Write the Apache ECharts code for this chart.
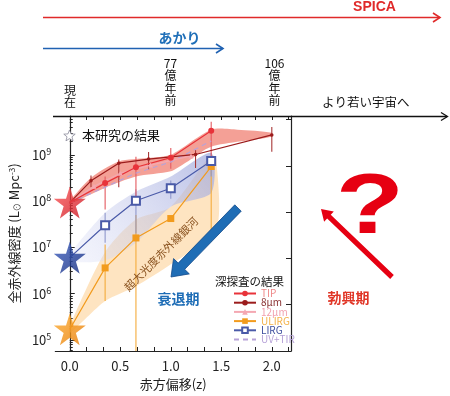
<!DOCTYPE html>
<html><head><meta charset="utf-8">
<script src="https://cdn.jsdelivr.net/npm/echarts@6/dist/echarts.min.js"></script>
<style>html,body{margin:0;padding:0;background:#fff}#c{width:450px;height:396px}</style>
</head><body><div id="c"></div>
<script>
// ---------- data (z, luminosity density in L_sun Mpc^-3) ----------
const xLabelValues = [0, 0.5, 1.0, 1.5, 2.0];
const yLabelExps = [5, 6, 7, 8, 9];
const tipData   = [[0,9.3e7],[0.35,2.45e8],[0.655,5.4e8],[1.0,8.7e8],[1.40,3.3e9]];
const tipErr    = [[0.35,6.6e7,3.4e8],[0.655,1.07e8,9.1e8],[1.0,5.0e8,1.4e9],[1.40,8.7e8,5.2e9]];
const mu8Data   = [[0,9.3e7],[0.21,2.75e8],[0.485,6.6e8],[0.78,8.1e8],[1.245,1.02e9],[2.0,2.7e9]];
const mu8Err    = [[0.21,2.0e8,3.6e8],[0.485,2.0e8,7.9e8],[0.78,4.8e8,1.15e9],[1.245,5.2e8,1.26e9],[2.0,1.17e9,4.0e9]];
const mu12Data  = [[0,9.3e7],[0.24,2.1e8],[0.5,4.0e8],[0.8,6.0e8],[1.2,9.5e8]];
const uvtirData = [[0,9.3e7],[0.35,2.0e8],[0.65,4.0e8],[1.0,7.0e8],[1.4,2.0e9]];
const lirgData  = [[0,6.0e6],[0.35,3.0e7],[0.655,1.02e8],[1.0,1.9e8],[1.40,7.4e8]];
const lirgErr   = [[0.35,1.26e7,5.6e7],[0.655,2.0e7,1.8e8],[1.0,1.12e8,2.8e8],[1.40,3.4e8,1.1e9]];
const ulirgData = [[0,1.7e5],[0.35,3.6e6],[0.655,1.6e7],[1.0,4.2e7],[1.40,5.6e8]];
const ulirgErr  = [[0.35,6.9e5,1.15e7],[0.655,5.0e4,5.0e7],[1.40,1.3e7,7.9e8]];
const thisWork  = [[0,9.3e7],[0,6.0e6],[0,1.7e5]];
const redBandUp  = [[0,1.0e8],[0.21,3.2e8],[0.485,7.2e8],[0.78,8.5e8],[1.0,1.0e9],[1.4,3.5e9],[1.66,3.5e9],[2.0,3.0e9]];
const redBandLo  = [[0,8.7e7],[0.35,1.95e8],[0.655,3.4e8],[1.0,4.4e8],[1.15,6.8e8],[1.4,1.5e9],[2.0,2.45e9]];
const blueBandUp = [[0,7.1e6],[0.35,5.6e7],[0.655,1.6e8],[1.0,3.4e8],[1.4,1.1e9]];
const blueBandLo = [[0,5.0e6],[0.35,5.2e6],[0.655,1.26e7],[1.0,7.6e7],[1.4,1.5e8]];
const orBandUp   = [[0,2.0e5],[0.35,7.9e6],[0.655,4.0e7],[1.0,7.6e7],[1.4,1.0e9],[1.45,8.0e8]];
const orBandLo   = [[0,1.4e5],[0.35,6.9e5],[0.655,1.45e6],[1.0,4.3e6],[1.45,2.45e7]];

const L = v => Math.log10(v);
const pts = arr => arr.map(p => [p[0], L(p[1])]);
const YMIN = 4.76, YMAX = 9.84, XMIN = -0.143, XMAX = 2.19;
const FONT = '"Noto Sans CJK JP", "Noto Sans", sans-serif';

const sixth = []; for (let i = 0; i <= 13; i++) sixth.push(i / 6);
const yMinor = []; for (let e = 4; e <= 9; e++) for (let k = 2; k <= 9; k++) { const v = e + Math.log10(k); if (v > YMIN && v < YMAX) yMinor.push(v); }
const yRight = [5.76, 6.76, 7.76, 8.76, 9.76];

const chart = echarts.init(document.getElementById('c'));

function lineSeries(name, data, color, symbol, size, extra) {
  return Object.assign({
    name, type: 'line', xAxisIndex: 0, yAxisIndex: 0, z: 4,
    data: pts(data).map((p, i) => i === 0 && data[i][0] === 0 ? { value: p, symbol: 'none' } : p),
    symbol, symbolSize: size, showSymbol: true,
    lineStyle: { color, width: 1.2 }, itemStyle: { color },
    emphasis: { disabled: true }, animation: false
  }, extra || {});
}
function errSeries(data, color) {
  return {
    type: 'custom', xAxisIndex: 0, yAxisIndex: 0, z: 3, silent: true, animation: false,
    data: data.map(d => [d[0], L(d[1]), L(d[2])]),
    renderItem: (params, api) => {
      const a = api.coord([api.value(0), api.value(1)]);
      const b = api.coord([api.value(0), api.value(2)]);
      const cs = params.coordSys;
      const yb = Math.min(a[1], cs.y + cs.height), yt = Math.max(b[1], cs.y);
      return { type: 'line', shape: { x1: a[0], y1: yb, x2: b[0], y2: yt }, style: { stroke: color, lineWidth: 1.1 } };
    }
  };
}
function bandSeries(up, lo, fill) {
  return {
    type: 'custom', xAxisIndex: 0, yAxisIndex: 0, z: 1, silent: true, animation: false,
    data: [0],
    renderItem: (params, api) => {
      const P = pts(up).map(p => api.coord(p)).concat(pts(lo).reverse().map(p => api.coord(p)));
      return { type: 'polygon', shape: { points: P, smooth: 0.25 }, style: { fill } };
    }
  };
}
function arrowPts(x1, y1, x2, y2, hw, headW, headL) {
  const dx = x2 - x1, dy = y2 - y1, len = Math.hypot(dx, dy);
  const ux = dx / len, uy = dy / len, nx = -uy, ny = ux;
  const bx = x2 - ux * headL, by = y2 - uy * headL;
  return [[x1 + nx * hw, y1 + ny * hw], [bx + nx * hw, by + ny * hw], [bx + nx * headW, by + ny * headW], [x2, y2],
          [bx - nx * headW, by - ny * headW], [bx - nx * hw, by - ny * hw], [x1 - nx * hw, y1 - ny * hw]];
}
function starPts(cx, cy, R, r) {
  const out = [];
  for (let i = 0; i < 10; i++) {
    const a = -Math.PI / 2 + i * Math.PI / 5, rr = i % 2 ? r : R;
    out.push([cx + rr * Math.cos(a), cy + rr * Math.sin(a)]);
  }
  return out;
}
const starPath = 'path://M50,0 L61.2,34.5 L97.6,34.5 L68.2,55.9 L79.4,90.5 L50,69.1 L20.6,90.5 L31.8,55.9 L2.4,34.5 L38.8,34.5 Z';
const starColors = [
  { type: 'linear', x: 0, y: 0, x2: 1, y2: 1, colorStops: [{ offset: 0, color: '#ff5a5a' }, { offset: 1, color: '#c8101c' }] },
  { type: 'linear', x: 0, y: 0, x2: 1, y2: 1, colorStops: [{ offset: 0, color: '#3a5cc0' }, { offset: 1, color: '#10287a' }] },
  { type: 'linear', x: 0, y: 0, x2: 1, y2: 1, colorStops: [{ offset: 0, color: '#ffae30' }, { offset: 1, color: '#e67800' }] }
];

const legendColors = { 'TIP': '#ef8a8a', '8μm': '#8a3232', '12μm': '#f2a2b0', 'ULIRG': '#f4b24a', 'LIRG': '#3f4f9e', 'UV+TIR': '#b7a2d8' };

const option = {
  animation: false,
  textStyle: { fontFamily: FONT },
  grid: { left: 54, right: 159, top: 116, bottom: 44 },
  legend: {
    orient: 'vertical', left: 228, top: 283.5, itemWidth: 22, itemHeight: 7, itemGap: -0.8,
    selectedMode: false,
    textStyle: { fontSize: 10, fontFamily: FONT },
    data: Object.keys(legendColors).map(n => ({ name: n, textStyle: { color: legendColors[n] } }))
  },
  xAxis: [
    { type: 'value', min: XMIN, max: XMAX, position: 'bottom',
      axisLine: { show: true, lineStyle: { color: '#222', width: 1.2 } },
      axisTick: { inside: true, length: 4, customValues: sixth, lineStyle: { color: '#222' } },
      axisLabel: { customValues: xLabelValues, formatter: v => v.toFixed(1), fontSize: 13, color: '#222', margin: 9, fontFamily: FONT },
      splitLine: { show: false },
      name: '赤方偏移(z)', nameLocation: 'middle', nameGap: 27,
      nameTextStyle: { fontSize: 13, color: '#222', fontFamily: FONT } },
    { type: 'value', min: XMIN, max: XMAX, position: 'top',
      axisLine: { show: false },
      axisTick: { inside: true, length: 4, customValues: sixth, lineStyle: { color: '#222' } },
      axisLabel: { show: false }, splitLine: { show: false } }
  ],
  yAxis: [
    { type: 'value', min: YMIN, max: YMAX, position: 'left',
      axisLine: { show: true, lineStyle: { color: '#222', width: 1.2 } },
      axisTick: { inside: true, length: 5, customValues: yLabelExps, lineStyle: { color: '#222' } },
      axisLabel: { customValues: yLabelExps, margin: 4, formatter: v => '{b|10}{s|' + v + '}',
        rich: { b: { fontSize: 13, color: '#222', lineHeight: 16, fontFamily: FONT },
                s: { fontSize: 9, color: '#222', verticalAlign: 'top', lineHeight: 10, fontFamily: FONT } } },
      splitLine: { show: false },
      name: '全赤外線密度 (L{o|⊙} Mpc{p|-3})', nameLocation: 'middle', nameGap: 30, nameRotate: 90,
      nameTextStyle: { fontSize: 13, color: '#222', fontFamily: FONT,
        rich: { o: { fontSize: 8, color: '#222', verticalAlign: 'bottom', fontFamily: FONT },
                p: { fontSize: 8, color: '#222', verticalAlign: 'top', fontFamily: FONT } } } },
    { type: 'value', min: YMIN, max: YMAX, position: 'left',
      axisLine: { show: false },
      axisTick: { inside: true, length: 3, customValues: yMinor, lineStyle: { color: '#222' } },
      axisLabel: { show: false }, splitLine: { show: false } },
    { type: 'value', min: YMIN, max: YMAX, position: 'right',
      axisLine: { show: true, lineStyle: { color: '#222', width: 1.2 } },
      axisTick: { inside: true, length: 5, customValues: yRight, lineStyle: { color: '#222' } },
      axisLabel: { show: false }, splitLine: { show: false } }
  ],
  series: [
    bandSeries(orBandUp, orBandLo, 'rgba(253,214,160,0.65)'),
    bandSeries(blueBandUp, blueBandLo, { type: 'linear', x: 1, y: 0, x2: 0, y2: 1,
      colorStops: [{ offset: 0, color: 'rgba(160,168,220,0.75)' }, { offset: 1, color: 'rgba(225,228,248,0.35)' }] }),
    bandSeries(redBandUp, redBandLo, 'rgba(240,120,105,0.7)'),
    errSeries(ulirgErr, '#f4ac3c'),
    errSeries(lirgErr, '#9098cc'),
    errSeries(tipErr, '#e45a60'),
    errSeries(mu8Err, '#a83838'),
    lineSeries('UV+TIR', uvtirData, '#b7a2d8', 'circle', 0, {
      showSymbol: false,
      lineStyle: { color: '#b7a2d8', width: 1.2, type: [5, 4] },
      itemStyle: { color: '#b7a2d8', opacity: 0 } }),
    lineSeries('12μm', mu12Data, '#f4a8b2', 'triangle', 5),
    lineSeries('ULIRG', ulirgData, '#f29b1d', 'rect', 7),
    lineSeries('LIRG', lirgData, '#4a5aa8', 'emptyRect', 8, { itemStyle: { color: '#4a5aa8', borderWidth: 1.2 } }),
    lineSeries('8μm', mu8Data, '#9b1c1c', 'circle', 3.5),
    lineSeries('TIP', tipData, '#e8333a', 'circle', 6),
    { type: 'scatter', xAxisIndex: 0, yAxisIndex: 0, z: 6, silent: true, animation: false,
      symbol: starPath, symbolSize: 32,
      data: pts(thisWork).map((p, i) => ({ value: p, itemStyle: { color: starColors[i] } })) }
  ],
  graphic: [
    { type: 'line', shape: { x1: 43, y1: 17.5, x2: 440, y2: 17.5 }, style: { stroke: '#e02a2a', lineWidth: 1.6 }, z: 10 },
    { type: 'polyline', shape: { points: [[433, 13], [440, 17.5], [433, 22]] }, style: { stroke: '#e02a2a', lineWidth: 1.6, fill: null }, z: 10 },
    { type: 'line', shape: { x1: 43, y1: 48.5, x2: 223, y2: 48.5 }, style: { stroke: '#2062b2', lineWidth: 1.6 }, z: 10 },
    { type: 'polyline', shape: { points: [[216, 44], [223, 48.5], [216, 53]] }, style: { stroke: '#2062b2', lineWidth: 1.6, fill: null }, z: 10 },
    { type: 'line', shape: { x1: 53, y1: 116.5, x2: 447, y2: 116.5 }, style: { stroke: '#111', lineWidth: 1.3 }, z: 10 },
    { type: 'polyline', shape: { points: [[441, 112.5], [447.5, 116.5], [441, 120.5]] }, style: { stroke: '#111', lineWidth: 1.3, fill: null }, z: 10 },
    { type: 'text', x: 374.5, y: 7.5, style: { text: 'SPICA', fill: '#e02a2a', font: 'bold 14px "Liberation Sans", Arial, sans-serif', textAlign: 'center', textVerticalAlign: 'middle' }, z: 10 },
    { type: 'text', x: 179.5, y: 38, style: { text: 'あかり', fill: '#1f6fb8', font: 'bold 14px ' + FONT, textAlign: 'center', textVerticalAlign: 'middle' }, z: 10 },
    { type: 'text', x: 170.5, y: 57, style: { text: '77\n億\n年\n前', fill: '#111', font: '12px ' + FONT, lineHeight: 12.4, textAlign: 'center', textVerticalAlign: 'top' }, z: 10 },
    { type: 'text', x: 274.5, y: 57, style: { text: '106\n億\n年\n前', fill: '#111', font: '12px ' + FONT, lineHeight: 12.4, textAlign: 'center', textVerticalAlign: 'top' }, z: 10 },
    { type: 'text', x: 70, y: 84, style: { text: '現\n在', fill: '#111', font: '12px ' + FONT, lineHeight: 12.4, textAlign: 'center', textVerticalAlign: 'top' }, z: 10 },
    { type: 'text', x: 322, y: 102, style: { text: 'より若い宇宙へ', fill: '#111', font: '12.5px ' + FONT, textAlign: 'left', textVerticalAlign: 'middle' }, z: 10 },
    { type: 'polygon', shape: { points: starPts(69.5, 136, 6, 2.6) }, style: { fill: '#fff', stroke: '#8a8a9a', lineWidth: 0.8 }, z: 10 },
    { type: 'text', x: 82, y: 135, style: { text: '本研究の結果', fill: '#111', font: '13px ' + FONT, textAlign: 'left', textVerticalAlign: 'middle' }, z: 10 },
    { type: 'text', x: 161, y: 254, rotation: Math.PI / 4, style: { text: '超大光度赤外線銀河', fill: '#8a5320', font: '11px ' + FONT, textAlign: 'center', textVerticalAlign: 'middle' }, z: 10 },
    { type: 'polygon', shape: { points: arrowPts(238, 208, 171, 277, 4.5, 11, 15) }, style: { fill: '#1f6db5', stroke: '#134a8a', lineWidth: 0.8 }, z: 10 },
    { type: 'text', x: 178.5, y: 299, style: { text: '衰退期', fill: '#1e6db6', font: 'bold 14px ' + FONT, textAlign: 'center', textVerticalAlign: 'middle' }, z: 10 },
    { type: 'text', x: 215, y: 282, style: { text: '深探査の結果', fill: '#111', font: '11.5px ' + FONT, textAlign: 'left', textVerticalAlign: 'middle' }, z: 10 },
    { type: 'text', x: 370, y: 209, scaleX: 1.3, style: { text: '?', fill: '#e60012', font: 'bold 86px "Liberation Sans", Arial, sans-serif', textAlign: 'center', textVerticalAlign: 'middle' }, z: 10 },
    { type: 'polygon', shape: { points: arrowPts(392, 277, 321, 209, 2.6, 7, 11) }, style: { fill: '#e60012' }, z: 10 },
    { type: 'text', x: 348.5, y: 298, style: { text: '勃興期', fill: '#e03526', font: 'bold 14px ' + FONT, textAlign: 'center', textVerticalAlign: 'middle' }, z: 10 }
  ]
};
chart.setOption(option);
</script>
</body></html>
